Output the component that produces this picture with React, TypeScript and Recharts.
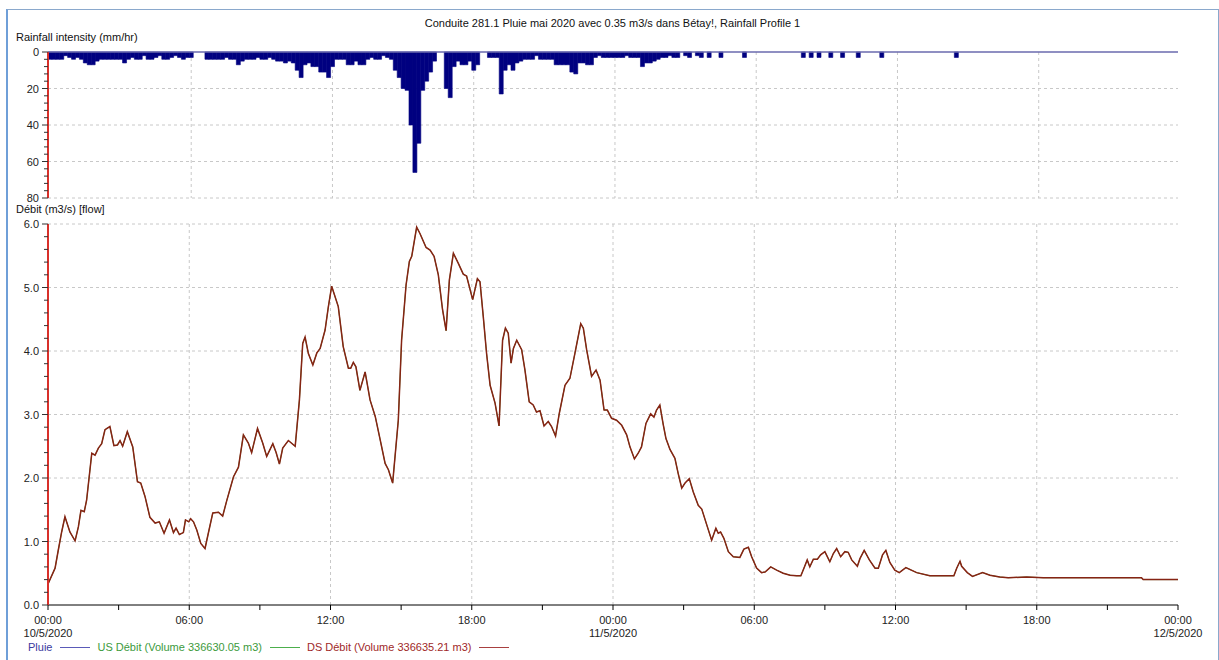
import React from "react";
import {
  ComposedChart,
  Bar,
  Line,
  XAxis,
  YAxis,
  CartesianGrid,
  ReferenceLine,
} from "recharts";

// rainfall intensity (mm/hr), 10-minute steps from 10/5/2020 00:00, one row per hour
const rainfall = [
  4, 4, 4, 4, 2, 3,
  4, 3, 4, 6, 7, 7,
  5, 4, 4, 4, 4, 4,
  4, 6, 4, 3, 4, 4,
  2, 4, 4, 3, 2, 4,
  4, 3, 2, 3, 4, 3,
  3, 0, 0, 0, 4, 4,
  4, 4, 4, 3, 4, 4,
  7, 5, 4, 4, 4, 3,
  4, 4, 3, 4, 5, 5,
  6, 5, 6, 10, 14, 7,
  6, 8, 8, 11, 11, 14,
  8, 4, 4, 4, 7, 7,
  5, 7, 7, 4, 3, 4,
  4, 2, 3, 4, 10, 14,
  20, 21, 40, 66, 50, 21,
  16, 11, 5, 0, 0, 20,
  25, 8, 5, 7, 7, 5,
  10, 7, 0, 0, 3, 3,
  3, 23, 10, 7, 10, 6,
  5, 4, 4, 4, 2, 4,
  4, 4, 4, 7, 7, 7,
  7, 11, 12, 6, 6, 7,
  7, 3, 2, 3, 3, 3,
  3, 3, 3, 2, 3, 3,
  3, 8, 6, 6, 5, 4,
  3, 3, 2, 3, 3, 0,
  2, 3, 0, 2, 3, 0,
  3, 0, 0, 3, 0, 0,
  0, 0, 0, 3, 0, 0,
  0, 0, 0, 0, 0, 0,
  0, 0, 0, 0, 0, 0,
  3, 0, 3, 0, 3, 0,
  0, 3, 0, 0, 3, 0,
  0, 0, 3, 0, 0, 0,
  0, 0, 3, 0, 0, 0,
  0, 0, 0, 0, 0, 0,
  0, 0, 0, 0, 0, 0,
  0, 0, 0, 3, 0, 0,
  0, 0, 0, 0, 0, 0,
  0, 0, 0, 0, 0, 0,
  0, 0, 0, 0, 0, 0,
  0, 0, 0, 0, 0, 0,
  0, 0, 0, 0, 0, 0,
  0, 0, 0, 0, 0, 0,
  0, 0, 0, 0, 0, 0,
  0, 0, 0, 0, 0, 0,
  0, 0, 0, 0, 0, 0,
];
const slotsPerHour = 6;

// flow (m3/s), hours since 10/5/2020 00:00
const flowHours = [
  0, 0.3, 0.44, 0.58, 0.72, 0.93, 1.15, 1.29, 1.4, 1.54, 1.64, 1.86, 2.0, 2.14,
  2.28, 2.42, 2.63, 2.8, 2.95, 3.06, 3.17, 3.37, 3.6, 3.8, 3.94, 4.12, 4.33,
  4.55, 4.73, 4.93, 5.16, 5.33, 5.44, 5.58, 5.75, 5.84, 5.98, 6.06, 6.18, 6.32,
  6.49, 6.67, 6.81, 7.0, 7.24, 7.42, 7.59, 7.88, 8.09, 8.3, 8.51, 8.65, 8.9,
  9.12, 9.29, 9.55, 9.69, 9.83, 9.97, 10.21, 10.5, 10.68, 10.82, 10.92, 11.06,
  11.25, 11.42, 11.56, 11.77, 11.91, 12.05, 12.33, 12.54, 12.76, 12.86, 12.97,
  13.08, 13.25, 13.47, 13.68, 13.9, 14.1, 14.32, 14.46, 14.64, 14.88, 15.02,
  15.21, 15.35, 15.45, 15.66, 15.8, 16.06, 16.23, 16.4, 16.58, 16.76, 16.91,
  17.05, 17.22, 17.43, 17.64, 17.78, 18.04, 18.24, 18.35, 18.49, 18.63, 18.78,
  18.99, 19.16, 19.31, 19.43, 19.55, 19.67, 19.77, 19.91, 20.12, 20.26, 20.44,
  20.61, 20.75, 20.9, 21.07, 21.25, 21.39, 21.56, 21.72, 21.96, 22.17, 22.38,
  22.63, 22.74, 22.88, 23.09, 23.28, 23.45, 23.62, 23.76, 23.94, 24.15, 24.37,
  24.58, 24.72, 24.91, 25.07, 25.21, 25.4, 25.6, 25.74, 25.85, 25.99, 26.13,
  26.25, 26.42, 26.63, 26.77, 26.92, 27.06, 27.24, 27.41, 27.62, 27.77, 28.01,
  28.19, 28.37, 28.47, 28.57, 28.71, 28.9, 29.11, 29.39, 29.56, 29.75, 29.89,
  30.1, 30.31, 30.46, 30.7, 30.95, 31.23, 31.52, 31.8, 31.98, 32.11, 32.25,
  32.36, 32.51, 32.68, 32.82, 33.0, 33.21, 33.36, 33.5, 33.67, 33.85, 33.99,
  34.14, 34.38, 34.49, 34.67, 34.89, 35.13, 35.27, 35.45, 35.59, 35.76, 35.97,
  36.16, 36.44, 36.9, 37.46, 38.48, 38.6, 38.74, 38.81, 39.05, 39.27, 39.7,
  40.01, 40.43, 40.79, 41.57, 42.28, 46.45, 46.52, 48,
];
const flowValues = [
  0.33, 0.58, 0.87, 1.15, 1.39, 1.15, 1.01, 1.23, 1.49, 1.47, 1.65, 2.39, 2.36,
  2.47, 2.54, 2.76, 2.81, 2.51, 2.52, 2.59, 2.5, 2.73, 2.49, 1.94, 1.92, 1.71,
  1.38, 1.29, 1.31, 1.13, 1.34, 1.14, 1.21, 1.11, 1.14, 1.34, 1.31, 1.36, 1.31,
  1.18, 0.97, 0.89, 1.13, 1.45, 1.46, 1.4, 1.64, 2.02, 2.17, 2.68, 2.55, 2.4,
  2.78, 2.55, 2.34, 2.54, 2.4, 2.22, 2.47, 2.59, 2.5, 3.23, 4.12, 4.22, 3.96,
  3.78, 3.97, 4.04, 4.33, 4.7, 5.02, 4.7, 4.07, 3.73, 3.73, 3.82, 3.75, 3.38,
  3.67, 3.23, 2.97, 2.62, 2.23, 2.13, 1.92, 2.91, 4.17, 5.04, 5.41, 5.49, 5.95,
  5.85, 5.63, 5.59, 5.49, 5.2, 4.65, 4.32, 5.12, 5.54, 5.38, 5.21, 5.18, 4.81,
  5.14, 5.09, 4.54, 3.96, 3.46, 3.18, 2.82, 4.17, 4.36, 4.28, 3.81, 4.04, 4.17,
  4.02, 3.7, 3.2, 3.15, 3.04, 3.06, 2.82, 2.89, 2.81, 2.66, 3.02, 3.46, 3.57,
  3.96, 4.43, 4.36, 4.02, 3.6, 3.7, 3.54, 3.07, 3.07, 2.94, 2.91, 2.83, 2.68,
  2.49, 2.3, 2.39, 2.49, 2.86, 3.01, 2.96, 3.07, 3.15, 2.85, 2.62, 2.45, 2.31,
  2.07, 1.84, 1.92, 1.99, 1.78, 1.57, 1.51, 1.23, 1.02, 1.21, 1.13, 1.15, 1.05,
  0.84, 0.76, 0.75, 0.88, 0.91, 0.76, 0.58, 0.51, 0.52, 0.6, 0.55, 0.5, 0.47,
  0.46, 0.46, 0.58, 0.71, 0.6, 0.72, 0.72, 0.79, 0.84, 0.68, 0.81, 0.89, 0.76,
  0.84, 0.83, 0.71, 0.61, 0.73, 0.86, 0.71, 0.58, 0.58, 0.79, 0.86, 0.67, 0.55,
  0.51, 0.59, 0.51, 0.46, 0.46, 0.58, 0.69, 0.61, 0.51, 0.45, 0.51, 0.47, 0.44,
  0.43, 0.44, 0.43, 0.43, 0.4, 0.4,
];

const hourTicks = [0, 3, 6, 9, 12, 15, 18, 21, 24, 27, 30, 33, 36, 39, 42, 45, 48];
const gridHours = [6, 12, 18, 24, 30, 36, 42];
const dayLabels = ["10/5/2020", "11/5/2020", "12/5/2020"];
const rainTicks = [0, 4, 8, 12, 16, 20, 24, 28, 32, 36, 40, 44, 48, 52, 56, 60, 64, 68, 72, 76, 80];
const rainGrid = [20, 40, 60, 80];
const flowTicks = [
  0, 0.2, 0.4, 0.6, 0.8, 1, 1.2, 1.4, 1.6, 1.8, 2, 2.2, 2.4, 2.6, 2.8, 3, 3.2,
  3.4, 3.6, 3.8, 4, 4.2, 4.4, 4.6, 4.8, 5, 5.2, 5.4, 5.6, 5.8, 6,
];
const flowGrid = [1, 2, 3, 4, 5, 6];

const rainData = rainfall.map((v, i) => ({ slot: i, rain: v }));
const rainGridSlots = gridHours.map((h) => h * slotsPerHour);
const flowData = flowHours.map((t, i) => ({ t, us: flowValues[i], ds: flowValues[i] }));

const FONT = "'Liberation Sans', Arial, sans-serif";
const AXIS_RED = "#d8302a";
const GRID = "#c8c8c8";

function YTick(props: any) {
  const { x, y, payload, majorStep, digits } = props;
  const v = payload.value;
  const major = Math.abs(v / majorStep - Math.round(v / majorStep)) < 1e-6;
  return (
    <g>
      <line x1={x - (major ? 6 : 4)} x2={x} y1={y} y2={y} stroke="#333" />
      {major && (
        <text x={x - 9} y={y + 4} textAnchor="end" fontSize={11} fontFamily={FONT} fill="#222">
          {v.toFixed(digits)}
        </text>
      )}
    </g>
  );
}

function HourTick(props: any) {
  const { x, y, payload } = props;
  const h = payload.value;
  const labelled = h % 6 === 0;
  const day = h % 24 === 0 ? dayLabels[h / 24] : null;
  const hh = String(h % 24).padStart(2, "0");
  return (
    <g>
      <line x1={x} x2={x} y1={y} y2={y + 5} stroke="#000" />
      {labelled && (
        <text x={x} y={y + 19} textAnchor="middle" fontSize={11} fontFamily={FONT} fill="#222">
          {hh}:00
        </text>
      )}
      {day && (
        <text x={x} y={y + 32} textAnchor="middle" fontSize={11} fontFamily={FONT} fill="#222">
          {day}
        </text>
      )}
    </g>
  );
}

const legend = [
  { name: "Pluie", color: "#3a3a9e", line: "#5a5ab8" },
  { name: "US Débit (Volume 336630.05 m3)", color: "#3c9a3c", line: "#4caf4c" },
  { name: "DS Débit (Volume 336635.21 m3)", color: "#a02828", line: "#a84040" },
];

export default function App() {
  return (
    <div
      style={{
        position: "absolute",
        left: 0,
        top: 0,
        width: 1219,
        height: 660,
        background: "#fff",
        overflow: "hidden",
        fontFamily: FONT,
      }}
    >
      <div
        style={{
          position: "absolute",
          left: 6,
          top: 9,
          width: 1210,
          height: 700,
          borderLeft: "2px solid #6f9fd8",
          borderTop: "1px solid #8aa8cc",
          borderRight: "1px solid #8aa8cc",
        }}
      />
      <div
        style={{
          position: "absolute",
          left: 0,
          width: 1225,
          top: 17,
          textAlign: "center",
          fontSize: 11,
          color: "#111",
        }}
      >
        Conduite 281.1 Pluie mai 2020 avec 0.35 m3/s dans Bétay!, Rainfall Profile 1
      </div>
      <div style={{ position: "absolute", left: 16, top: 31, fontSize: 11, color: "#111" }}>
        Rainfall intensity (mm/hr)
      </div>
      <div style={{ position: "absolute", left: 16, top: 203, fontSize: 11, color: "#111" }}>
        Débit (m3/s) [flow]
      </div>

      <div style={{ position: "absolute", left: 0, top: 0 }}>
        <ComposedChart
          width={1219}
          height={210}
          data={rainData}
          barCategoryGap={0}
          barGap={0}
          margin={{ top: 52, right: 41, bottom: 12, left: 0 }}
        >
          <CartesianGrid
            stroke={GRID}
            strokeDasharray="3 3"
            horizontalValues={rainGrid}
            verticalValues={rainGridSlots}
          />
          <XAxis type="category" dataKey="slot" hide />
          <YAxis
            type="number"
            domain={[0, 80]}
            reversed
            ticks={rainTicks}
            interval={0}
            width={48}
            tickLine={false}
            tickSize={0}
            tickMargin={0}
            axisLine={{ stroke: AXIS_RED, strokeWidth: 2 }}
            tick={(p: any) => <YTick {...p} majorStep={20} digits={0} />}
          />
          <Bar
            dataKey="rain"
            fill="#000080"
            stroke="#000080"
            strokeWidth={0.6}
            isAnimationActive={false}
          />
          <ReferenceLine y={0} stroke="#6a6aae" strokeWidth={1.5} />
        </ComposedChart>
      </div>

      <div style={{ position: "absolute", left: 0, top: 0 }}>
        <ComposedChart
          width={1219}
          height={660}
          data={flowData}
          margin={{ top: 224, right: 41, bottom: 15, left: 0 }}
        >
          <CartesianGrid
            stroke={GRID}
            strokeDasharray="3 3"
            horizontalValues={flowGrid}
            verticalValues={gridHours}
          />
          <XAxis
            type="number"
            dataKey="t"
            domain={[0, 48]}
            ticks={hourTicks}
            interval={0}
            height={40}
            tickLine={false}
            tickSize={0}
            tickMargin={0}
            axisLine={{ stroke: "#000" }}
            tick={(p: any) => <HourTick {...p} />}
          />
          <YAxis
            type="number"
            domain={[0, 6]}
            ticks={flowTicks}
            interval={0}
            width={48}
            tickLine={false}
            tickSize={0}
            tickMargin={0}
            axisLine={{ stroke: AXIS_RED, strokeWidth: 2 }}
            tick={(p: any) => <YTick {...p} majorStep={1} digits={1} />}
          />
          <Line
            type="linear"
            dataKey="us"
            stroke="#4c9a3c"
            strokeWidth={1}
            dot={false}
            isAnimationActive={false}
          />
          <Line
            type="linear"
            dataKey="ds"
            stroke="#862414"
            strokeWidth={1.5}
            dot={false}
            isAnimationActive={false}
          />
        </ComposedChart>
      </div>

      <div
        style={{
          position: "absolute",
          left: 28,
          top: 641,
          display: "flex",
          alignItems: "center",
          fontSize: 11,
          whiteSpace: "nowrap",
        }}
      >
        {legend.map((l) => (
          <span key={l.name} style={{ display: "flex", alignItems: "center" }}>
            <span style={{ color: l.color }}>{l.name}</span>
            <span
              style={{
                display: "inline-block",
                width: 30,
                height: 0,
                borderTop: `1.5px solid ${l.line}`,
                margin: "0 7px 0 8px",
              }}
            />
          </span>
        ))}
      </div>
    </div>
  );
}
